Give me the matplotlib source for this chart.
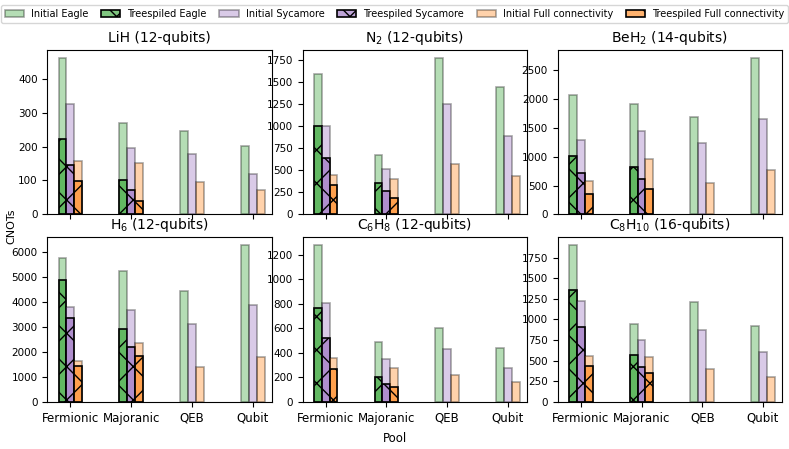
import numpy as np
import matplotlib
matplotlib.use("Agg")
import matplotlib.pyplot as plt
from matplotlib.colors import to_rgba
from matplotlib.ticker import MaxNLocator

pools = ["Fermionic", "Majoranic", "QEB", "Qubit"]

titles = ["LiH (12-qubits)", r"N$_2$ (12-qubits)", r"BeH$_2$ (14-qubits)",
          r"H$_6$ (12-qubits)", r"C$_6$H$_8$ (12-qubits)", r"C$_8$H$_{10}$ (16-qubits)"]

# initial / treespiled CNOT counts per pool (treespiled only for Fermionic, Majoranic)
lih_init_eagle = [463, 271, 247, 201]
lih_init_syc = [325, 197, 178, 120]
lih_init_full = [158, 152, 96, 73]
lih_tree_eagle = [224, 102]
lih_tree_syc = [147, 71]
lih_tree_full = [98, 39]

n2_init_eagle = [1587, 668, 1776, 1443]
n2_init_syc = [1004, 519, 1246, 890]
n2_init_full = [451, 398, 572, 435]
n2_tree_eagle = [1004, 352]
n2_tree_syc = [644, 262]
n2_tree_full = [330, 190]

beh2_init_eagle = [2065, 1920, 1694, 2720]
beh2_init_syc = [1293, 1439, 1241, 1653]
beh2_init_full = [580, 969, 551, 771]
beh2_tree_eagle = [1015, 824]
beh2_tree_syc = [725, 609]
beh2_tree_full = [360, 435]

h6_init_eagle = [5783, 5261, 4471, 6292]
h6_init_syc = [3802, 3681, 3119, 3896]
h6_init_full = [1647, 2383, 1392, 1807]
h6_tree_eagle = [4886, 2918]
h6_tree_syc = [3360, 2222]
h6_tree_full = [1432, 1847]

c6h8_init_eagle = [1277, 489, 598, 443]
c6h8_init_syc = [802, 353, 429, 277]
c6h8_init_full = [359, 272, 215, 158]
c6h8_tree_eagle = [769, 204]
c6h8_tree_syc = [522, 149]
c6h8_tree_full = [264, 122]

c8h10_init_eagle = [1900, 946, 1217, 914]
c8h10_init_syc = [1225, 748, 877, 602]
c8h10_init_full = [562, 546, 404, 303]
c8h10_tree_eagle = [1358, 570]
c8h10_tree_syc = [913, 420]
c8h10_tree_full = [432, 356]

data = [
    (lih_init_eagle, lih_init_syc, lih_init_full, lih_tree_eagle, lih_tree_syc, lih_tree_full),
    (n2_init_eagle, n2_init_syc, n2_init_full, n2_tree_eagle, n2_tree_syc, n2_tree_full),
    (beh2_init_eagle, beh2_init_syc, beh2_init_full, beh2_tree_eagle, beh2_tree_syc, beh2_tree_full),
    (h6_init_eagle, h6_init_syc, h6_init_full, h6_tree_eagle, h6_tree_syc, h6_tree_full),
    (c6h8_init_eagle, c6h8_init_syc, c6h8_init_full, c6h8_tree_eagle, c6h8_tree_syc, c6h8_tree_full),
    (c8h10_init_eagle, c8h10_init_syc, c8h10_init_full, c8h10_tree_eagle, c8h10_tree_syc, c8h10_tree_full),
]

devices = ["Eagle", "Sycamore", "Full connectivity"]
colors = ["tab:green", "tab:purple", "tab:orange"]
width = 0.13

fig, axes = plt.subplots(2, 3, figsize=(7.89, 4.49), dpi=100, sharex=True)
fig.subplots_adjust(left=0.06, right=0.991, top=0.889, bottom=0.105, wspace=0.138, hspace=0.14)

x = np.arange(len(pools))
handles = []
for k, ax in enumerate(axes.flat):
    vals = data[k]
    for d in range(3):
        init = vals[d]
        tree = vals[d + 3]
        off = (d - 1) * width
        b1 = ax.bar(x + off, init, width, facecolor=to_rgba(colors[d], 0.35),
                    edgecolor=to_rgba("black", 0.35), linewidth=1.2)
        b2 = ax.bar(x[:len(tree)] + off, tree, width, facecolor=to_rgba(colors[d], 0.6),
                    edgecolor="black", linewidth=1.2, hatch="x")
        if k == 0:
            handles.append((b1, "Initial " + devices[d]))
            handles.append((b2, "Treespiled " + devices[d]))
    ax.set_title(titles[k], fontsize=10)
    ax.tick_params(labelsize=7.5)
    ax.yaxis.set_major_locator(MaxNLocator(nbins=8, steps=[1, 2, 2.5, 5, 10]))
    ax.set_xticks(x)
    ax.set_xticklabels(pools, fontsize=8.5)
    ax.set_xlim(-0.38, 3.31)

fig.legend([h[0] for h in handles], [h[1] for h in handles], loc="upper center",
           bbox_to_anchor=(0.5, 1.0), ncol=6, fontsize=7, handlelength=2.0,
           columnspacing=1.3, handletextpad=0.7)
fig.supylabel("CNOTs", fontsize=8, x=0.008, y=0.495)
fig.supxlabel("Pool", fontsize=8.5, y=0.01)

plt.savefig("out.png", dpi=100)
